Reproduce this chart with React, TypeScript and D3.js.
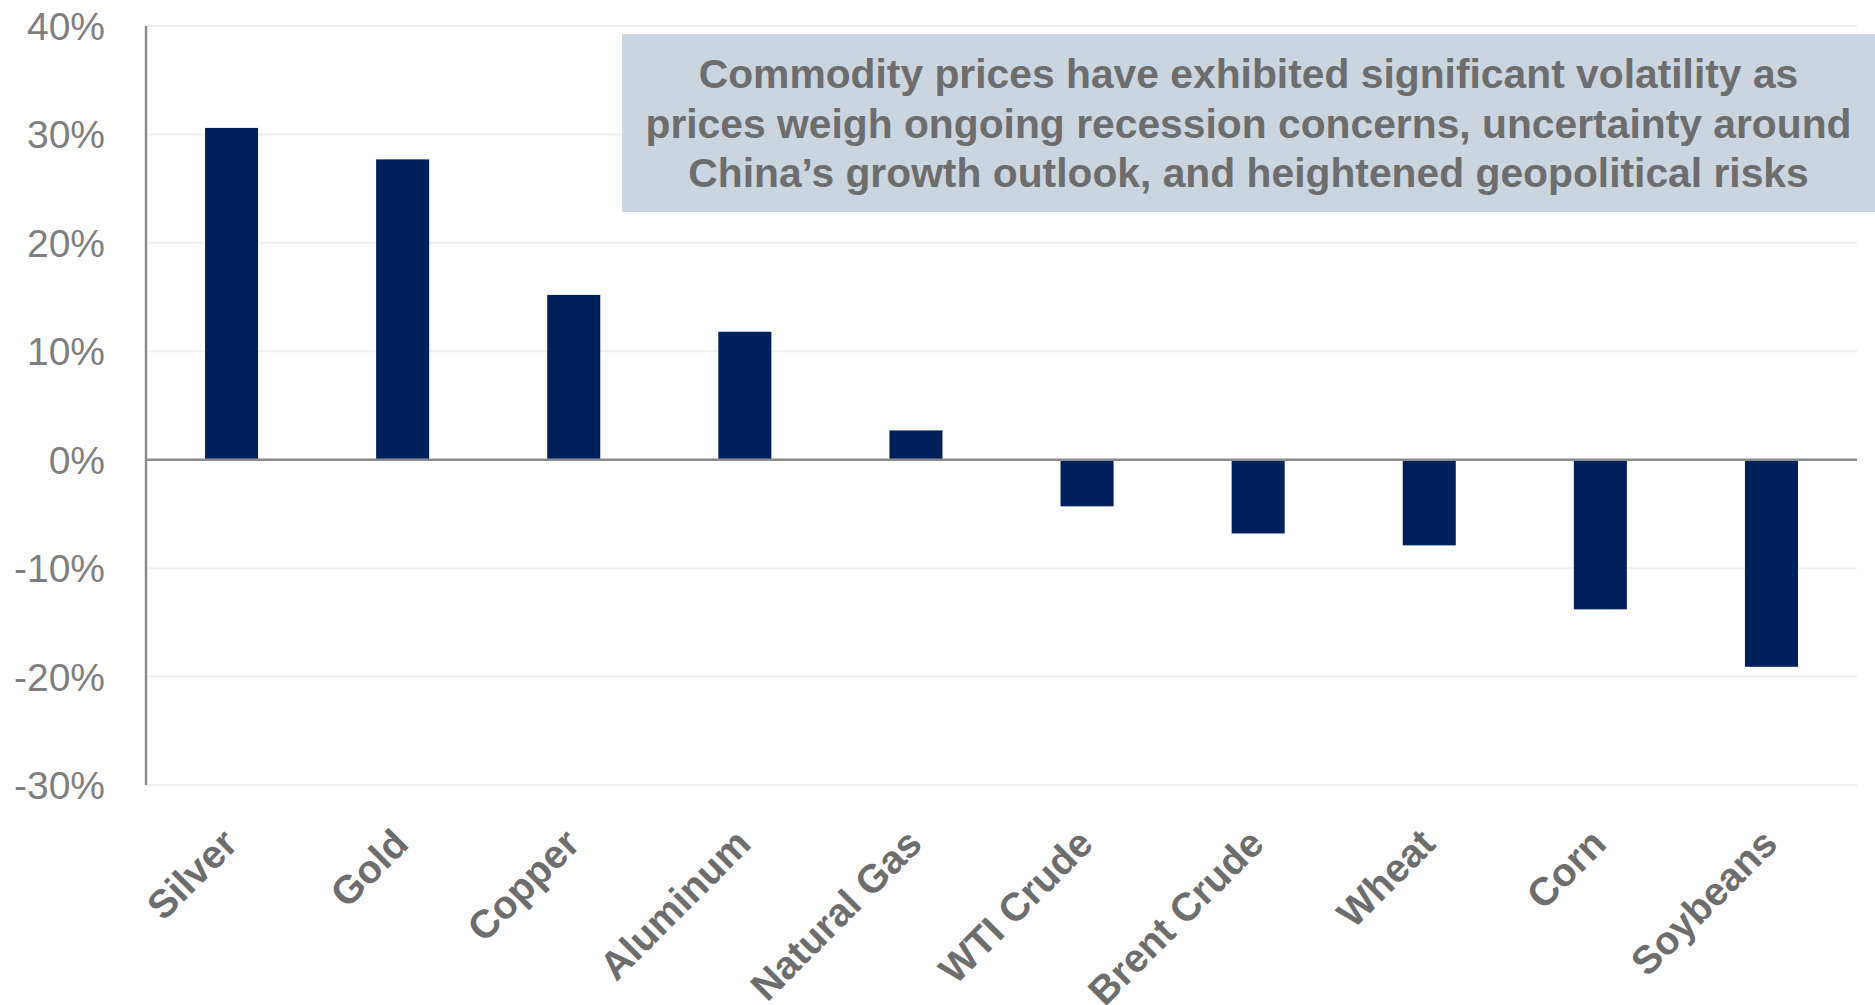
import { useEffect, useRef } from 'react';
import * as d3 from 'd3';

const categories = [
  'Silver', 'Gold', 'Copper', 'Aluminum', 'Natural Gas',
  'WTI Crude', 'Brent Crude', 'Wheat', 'Corn', 'Soybeans',
];
const changes = [30.6, 27.7, 15.2, 11.8, 2.7, -4.3, -6.8, -7.9, -13.8, -19.1];
const yTicks = [-30, -20, -10, 0, 10, 20, 30, 40];
const calloutLines = [
  'Commodity prices have exhibited significant volatility as',
  'prices weigh ongoing recession concerns, uncertainty around',
  'China\u2019s growth outlook, and heightened geopolitical risks',
];

const WIDTH = 1875;
const HEIGHT = 1005;
const FONT = '"Liberation Sans", Arial, Helvetica, sans-serif';

export default function App(): React.JSX.Element {
  const svgRef = useRef<SVGSVGElement>(null);

  useEffect(() => {
    if (!svgRef.current) return;
    const svg = d3.select(svgRef.current);
    svg.selectAll('*').remove();

    const left = 146;
    const right = 1857;
    const top = 26;
    const bottom = 785;

    const x = d3.scaleBand<string>()
      .domain(categories)
      .range([left, right])
      .paddingInner(0.69)
      .paddingOuter(0.345);

    const y = d3.scaleLinear().domain([-30, 40]).range([bottom, top]);

    // light gridlines
    svg.append('g')
      .selectAll('line')
      .data(yTicks.filter(t => t !== 0))
      .join('line')
      .attr('x1', left)
      .attr('x2', right)
      .attr('y1', d => y(d))
      .attr('y2', d => y(d))
      .attr('stroke', '#efefef')
      .attr('stroke-width', 2);

    // y tick labels
    svg.append('g')
      .selectAll('text')
      .data(yTicks)
      .join('text')
      .attr('x', 105)
      .attr('y', d => y(d))
      .attr('dy', '0.36em')
      .attr('text-anchor', 'end')
      .attr('font-family', FONT)
      .attr('font-size', 39)
      .attr('fill', '#7f7f7f')
      .text(d => `${d}%`);

    // bars
    svg.append('g')
      .selectAll('rect')
      .data(changes)
      .join('rect')
      .attr('x', (_d, i) => x(categories[i]) ?? 0)
      .attr('width', x.bandwidth())
      .attr('y', d => y(Math.max(0, d)))
      .attr('height', d => Math.abs(y(d) - y(0)))
      .attr('fill', '#00205c');

    // zero line and y axis
    svg.append('line')
      .attr('x1', left)
      .attr('x2', right)
      .attr('y1', y(0))
      .attr('y2', y(0))
      .attr('stroke', '#8c8c8c')
      .attr('stroke-width', 2.5);

    svg.append('line')
      .attr('x1', left)
      .attr('x2', left)
      .attr('y1', top)
      .attr('y2', bottom)
      .attr('stroke', '#8c8c8c')
      .attr('stroke-width', 2.5);

    // rotated category labels
    svg.append('g')
      .selectAll('text')
      .data(categories)
      .join('text')
      .attr('transform', d => `translate(${(x(d) ?? 0) + x.bandwidth() / 2 + 8},846) rotate(-45)`)
      .attr('text-anchor', 'end')
      .attr('font-family', FONT)
      .attr('font-weight', 'bold')
      .attr('font-size', 39.5)
      .attr('fill', '#6d6d6d')
      .text(d => d);

    // callout box
    const box = svg.append('g');
    box.append('rect')
      .attr('x', 622)
      .attr('y', 34)
      .attr('width', WIDTH - 622)
      .attr('height', 178)
      .attr('fill', '#cad5e0');

    box.selectAll('text')
      .data(calloutLines)
      .join('text')
      .attr('x', (622 + WIDTH) / 2)
      .attr('y', (_d, i) => 88 + i * 49.5)
      .attr('text-anchor', 'middle')
      .attr('font-family', FONT)
      .attr('font-weight', 'bold')
      .attr('font-size', 40.8)
      .attr('fill', '#6d6d6d')
      .text(d => d);
  }, []);

  return (
    <svg
      ref={svgRef}
      width={WIDTH}
      height={HEIGHT}
      style={{ position: 'absolute', left: 0, top: 0, background: '#fff' }}
    />
  );
}
